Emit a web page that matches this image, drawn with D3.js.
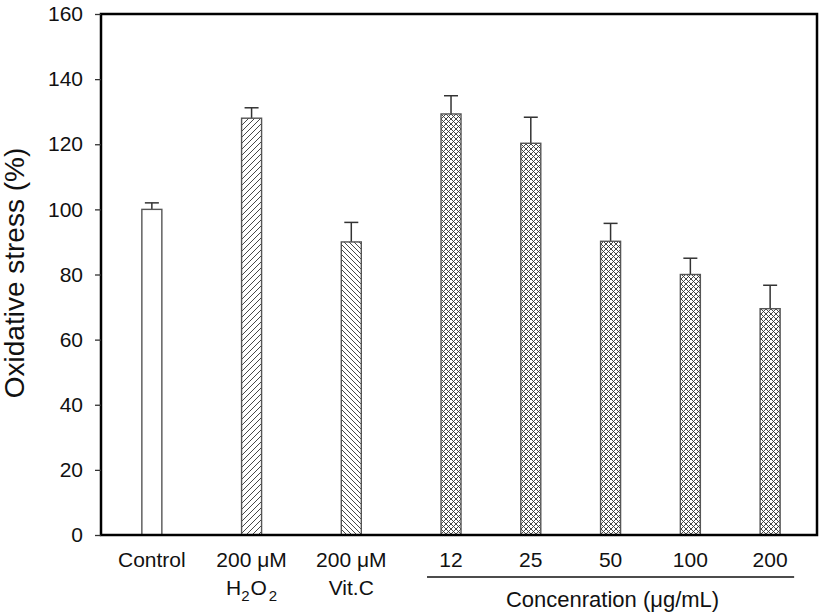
<!DOCTYPE html>
<html>
<head>
<meta charset="utf-8">
<script src="https://cdn.jsdelivr.net/npm/d3@7"></script>
<style>
  body { margin: 0; background: #fff; }
  text { font-family: Arial, "Liberation Sans", sans-serif; fill: #111; }
</style>
</head>
<body>
<script>
const svgWidth = 827
const svgHeight = 615

const margin = { top: 14, right: 10, bottom: 80, left: 101 }
const chartWidth = svgWidth - margin.left - margin.right
const chartHeight = svgHeight - margin.top - margin.bottom

// data
const categories = ["Control", "H2O2", "Vit.C", "12", "25", "50", "100", "200"]
const groups = ["control", "h2o2", "vitc", "extract", "extract", "extract", "extract", "extract"]
const means = [100, 128, 90, 129.3, 120.3, 90.2, 80, 69.5]
const errors = [2, 3.2, 6, 5.6, 8, 5.5, 5, 7.2]
const yTicks = [0, 20, 40, 60, 80, 100, 120, 140, 160]

const svg = d3.select("body").append("svg")
  .attr("width", svgWidth)
  .attr("height", svgHeight)

const defs = svg.append("defs")

function hatch(id, size, paths) {
  const p = defs.append("pattern")
    .attr("id", id)
    .attr("patternUnits", "userSpaceOnUse")
    .attr("width", size)
    .attr("height", size)
  p.append("rect").attr("width", size).attr("height", size).attr("fill", "#fff")
  paths.forEach(d => p.append("path").attr("d", d)
    .attr("stroke", "#333").attr("stroke-width", 0.9).attr("fill", "none"))
}
hatch("fwd", 6, ["M0,6 L6,0", "M-1,1 L1,-1", "M5,7 L7,5"])
hatch("back", 5, ["M0,0 L5,5", "M-1,4 L1,6", "M4,-1 L6,1"])
hatch("cross", 5, ["M0,5 L5,0", "M0,0 L5,5", "M-1,1 L1,-1", "M4,6 L6,4", "M-1,4 L1,6", "M4,-1 L6,1"])

const fills = { control: "#fff", h2o2: "url(#fwd)", vitc: "url(#back)", extract: "url(#cross)" }

const chartG = svg.append("g")
  .attr("transform", `translate(${margin.left}, ${margin.top})`)

// controls are one unit apart, the extract doses 0.8 apart
const slot = i => i <= 3 ? i : 3 + (i - 3) * 0.8

const x = d3.scaleLinear()
  .domain([-0.51, 6.67])
  .range([0, chartWidth])

const y = d3.scaleLinear()
  .domain([0, 160])
  .range([chartHeight, 0])

const barW = 20

const data = categories.map((c, i) => ({ c, g: groups[i], v: means[i], e: errors[i], i }))

// error bars (upper only)
const err = chartG.selectAll(".err").data(data).enter().append("g")
err.append("line")
  .attr("x1", d => x(slot(d.i))).attr("x2", d => x(slot(d.i)))
  .attr("y1", d => y(d.v)).attr("y2", d => y(d.v + d.e))
  .attr("stroke", "#333").attr("stroke-width", 1.5)
err.append("line")
  .attr("x1", d => x(slot(d.i)) - 7).attr("x2", d => x(slot(d.i)) + 7)
  .attr("y1", d => y(d.v + d.e)).attr("y2", d => y(d.v + d.e))
  .attr("stroke", "#333").attr("stroke-width", 1.5)

chartG.selectAll(".bar")
  .data(data)
  .enter()
  .append("rect")
  .attr("x", d => x(slot(d.i)) - barW / 2)
  .attr("y", d => y(d.v))
  .attr("width", barW)
  .attr("height", d => chartHeight - y(d.v))
  .attr("fill", d => fills[d.g])
  .attr("stroke", "#555")
  .attr("stroke-width", 1.4)

// frame
chartG.append("rect")
  .attr("width", chartWidth)
  .attr("height", chartHeight)
  .attr("fill", "none")
  .attr("stroke", "#000")
  .attr("stroke-width", 2.5)

const yAxis = d3.axisLeft(y).tickValues(yTicks).tickSize(6).tickPadding(12)
const yG = chartG.append("g").call(yAxis)
yG.select(".domain").remove()
yG.selectAll(".tick line").attr("stroke", "#333").attr("stroke-width", 1.3)
yG.selectAll(".tick text").style("font-size", "21px").attr("fill", "#111")
  .attr("font-family", "Arial, 'Liberation Sans', sans-serif")

// x labels
const labG = chartG.append("g").attr("transform", `translate(0, ${chartHeight})`)
const lab = labG.selectAll(".lab").data(data).enter().append("text")
  .attr("x", d => x(slot(d.i)))
  .attr("y", 32)
  .attr("text-anchor", "middle")
  .style("font-size", "21px")

lab.each(function (d) {
  const t = d3.select(this)
  if (d.g === "h2o2" || d.g === "vitc") {
    t.append("tspan").text("200 μM")
    const t2 = d3.select(this.parentNode).append("text")
      .attr("x", x(slot(d.i))).attr("y", 60)
      .attr("text-anchor", "middle").style("font-size", "21px")
    if (d.g === "h2o2") {
      t2.append("tspan").text("H")
      t2.append("tspan").text("2").style("font-size", "15px").attr("dy", 6)
      t2.append("tspan").text("O").attr("dy", -6).attr("dx", 1)
      t2.append("tspan").text("2").style("font-size", "15px").attr("dy", 6).attr("dx", 2)
    } else {
      t2.text(d.c)
    }
  } else {
    t.text(d.c)
  }
})

const firstDose = 3, lastDose = categories.length - 1
labG.append("line")
  .attr("x1", x(slot(firstDose)) - 24)
  .attr("x2", x(slot(lastDose)) + 24)
  .attr("y1", 42).attr("y2", 42)
  .attr("stroke", "#111").attr("stroke-width", 1.5)

labG.append("text")
  .attr("x", (x(slot(firstDose)) + x(slot(lastDose))) / 2 + 2)
  .attr("y", 72)
  .attr("text-anchor", "middle")
  .style("font-size", "22px")
  .text("Concenration (μg/mL)")

svg.append("text")
  .attr("transform", `translate(24, 273) rotate(-90)`)
  .attr("text-anchor", "middle")
  .style("font-size", "28px")
  .attr("fill", "#222")
  .text("Oxidative stress (%)")
</script>
</body>
</html>
